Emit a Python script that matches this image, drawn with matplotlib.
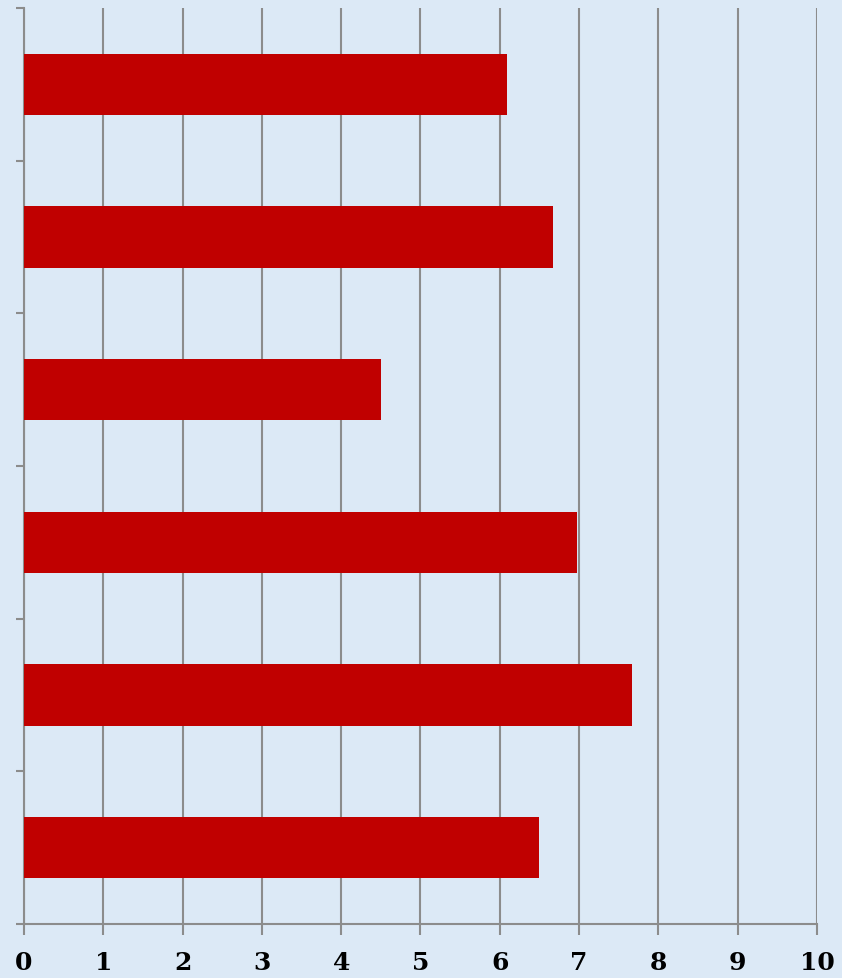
import matplotlib
matplotlib.use("Agg")
import matplotlib.pyplot as plt

# bar values, top to bottom
categories = ["A", "B", "C", "D", "E", "F"]
values = [6.09, 6.67, 4.50, 6.97, 7.67, 6.50]
x_ticks = list(range(0, 11))

bg = "#dce9f6"
grid_col = "#8c8c8c"

fig = plt.figure(figsize=(8.42, 9.79), dpi=100, facecolor=bg)
ax = fig.add_axes([0.0285, 0.0552, 0.9418, 0.9356], facecolor=bg)

pos = list(range(len(categories)))[::-1]
ax.barh(pos, values, height=0.4, color="#c00000", zorder=3)

ax.set_xlim(0, 10)
ax.set_ylim(-0.5, len(categories) - 0.5)
ax.set_xticks(x_ticks)
ax.set_xticklabels([str(t) for t in x_ticks], fontsize=18, fontweight="bold",
                   family="DejaVu Serif")
ax.set_yticks([p - 0.5 for p in range(len(categories) + 1)])
ax.set_yticklabels([])
ax.tick_params(axis="x", length=8, width=1.5, color=grid_col, pad=11)
ax.tick_params(axis="y", length=6, width=1.5, color=grid_col)
ax.xaxis.grid(True, color=grid_col, linewidth=1.5, zorder=0)
ax.set_axisbelow(True)

for s in ["top", "right"]:
    ax.spines[s].set_visible(False)
for s in ["left", "bottom"]:
    ax.spines[s].set_color(grid_col)
    ax.spines[s].set_linewidth(1.5)

fig.savefig("out.png", dpi=100, facecolor=bg)
